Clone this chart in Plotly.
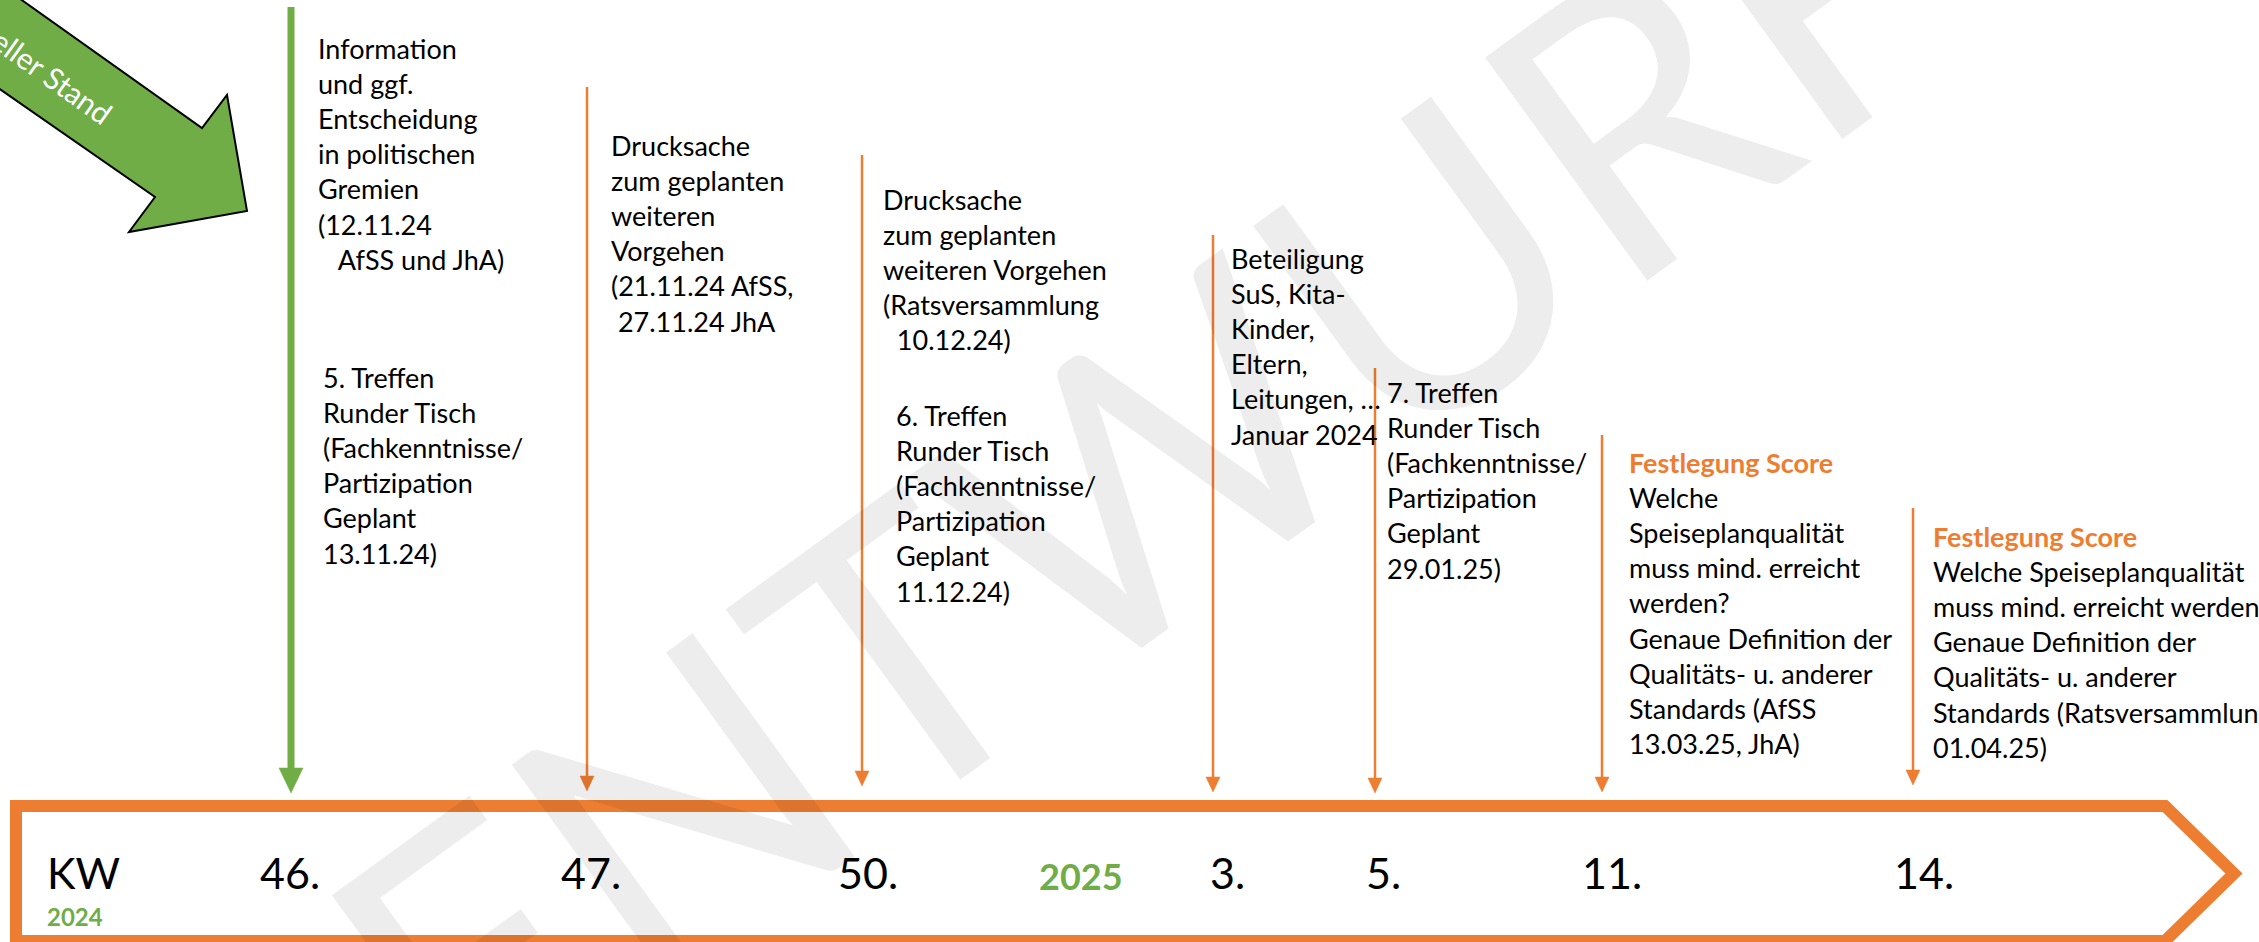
import plotly.graph_objects as go

# ---------------- data ----------------
week_labels = ["46.", "47.", "50.", "3.", "5.", "11.", "14."]
kw_label = "KW"
year_start = "2024"
year_break = "2025"
current_label = "Aktueller Stand"
watermark_text = "ENTWURF"

NB = "\u00a0"
upper_texts = [
    ["Information", "und ggf.", "Entscheidung", "in politischen", "Gremien", "(12.11.24", NB * 3 + "AfSS und JhA)"],
    ["Drucksache", "zum geplanten", "weiteren", "Vorgehen", "(21.11.24 AfSS,", NB + "27.11.24 JhA"],
    ["Drucksache", "zum geplanten", "weiteren Vorgehen", "(Ratsversammlung", NB * 2 + "10.12.24)"],
    ["Beteiligung", "SuS, Kita-", "Kinder,", "Eltern,", "Leitungen, …", "Januar 2024"],
    ["7. Treffen", "Runder Tisch", "(Fachkenntnisse/", "Partizipation", "Geplant", "29.01.25)"],
    ["Welche", "Speiseplanqualität", "muss mind. erreicht", "werden?", "Genaue Definition der",
     "Qualitäts- u. anderer", "Standards (AfSS", "13.03.25, JhA)"],
    ["Welche Speiseplanqualität", "muss mind. erreicht werden?", "Genaue Definition der",
     "Qualitäts- u. anderer", "Standards (Ratsversammlung", "01.04.25)"],
]
headings = [None, None, None, None, None, "Festlegung Score", "Festlegung Score"]
lower_texts = {
    0: ["5. Treffen", "Runder Tisch", "(Fachkenntnisse/", "Partizipation", "Geplant", "13.11.24)"],
    2: ["6. Treffen", "Runder Tisch", "(Fachkenntnisse/", "Partizipation", "Geplant", "11.12.24)"],
}
current_index = 0

# ---------------- layout (pixel canvas) ----------------
W, H = 2259, 942
ORANGE = "#ED7D31"
GREEN = "#70AD47"
FONT = "Lato"
FS = 27          # event text size
FS_WEEK = 43

marker_x = [291, 587, 862, 1213, 1375, 1602, 1913]
marker_top = [7, 87, 155, 235, 368, 435, 508]
marker_tip = [793, 791, 786, 792, 793, 792, 785]
upper_text_x = [316, 609, 881, 1229, 1385, 1627, 1931]
upper_text_base = [58, 155, 209, 268, 402, 472, 546]
lower_text_pos = {0: (321, 387), 2: (894, 425)}
label_x = [258, 559, 836, 1208, 1364, 1580, 1892]
label_base = 889
ASC = 0.99       # ascent factor used to turn a baseline into a box top


def top_from_base(base, size):
    return base - ASC * size - 1


fig = go.Figure()
shapes = []
annotations = []

# watermark (drawn first, faint)
annotations.append(dict(
    x=1140, y=465, xref="x", yref="y", text=watermark_text, showarrow=False,
    textangle=-36, xanchor="center", yanchor="middle",
    font=dict(family=FONT, size=385, color="rgba(0,0,0,0.07)"),
))

# timeline box (arrow shaped)
box_l, box_t, box_b, box_r, box_tip = 16, 806, 941, 2165, 2234
box_mid = (box_t + box_b) / 2
shapes.append(dict(
    type="path", xref="x", yref="y",
    path=f"M {box_l},{box_t} L {box_r},{box_t} L {box_tip},{box_mid} L {box_r},{box_b} L {box_l},{box_b} Z",
    line=dict(color=ORANGE, width=12), fillcolor="rgba(0,0,0,0)", layer="above",
))

# vertical markers
for i, x in enumerate(marker_x):
    cur = i == current_index
    col = GREEN if cur else ORANGE
    lw = 7 if cur else 2.5
    hw, hl = (12, 25) if cur else (7, 15)
    tip = marker_tip[i]
    shapes.append(dict(type="line", xref="x", yref="y", x0=x, x1=x, y0=marker_top[i], y1=tip - hl + 2,
                       line=dict(color=col, width=lw), layer="above"))
    shapes.append(dict(type="path", xref="x", yref="y",
                       path=f"M {x-hw},{tip-hl} L {x+hw},{tip-hl} L {x},{tip} Z",
                       fillcolor=col, line=dict(color=col, width=0.5), layer="above"))

# big green "current state" arrow
shapes.append(dict(
    type="path", xref="x", yref="y",
    path="M -160,-129 L 202,128 L 227,95 L 247,211 L 129,232 L 155,197 L -160,-22 Z",
    fillcolor=GREEN, line=dict(color="black", width=2), layer="above",
))
annotations.append(dict(
    x=27, y=58, xref="x", yref="y", text=current_label, showarrow=False,
    textangle=35.5, xanchor="center", yanchor="middle",
    font=dict(family=FONT, size=30, color="white"),
))

# event texts
for i, lines in enumerate(upper_texts):
    body = "<br>".join(lines)
    if headings[i]:
        body = f"<b><span style='color:{ORANGE}'>{headings[i]}</span></b><br>" + body
    annotations.append(dict(
        x=upper_text_x[i], y=top_from_base(upper_text_base[i], FS), xref="x", yref="y",
        text=body, showarrow=False, align="left", xanchor="left", yanchor="top",
        font=dict(family=FONT, size=FS, color="black"),
    ))
for i, lines in lower_texts.items():
    lx, lb = lower_text_pos[i]
    annotations.append(dict(
        x=lx, y=top_from_base(lb, FS), xref="x", yref="y",
        text="<br>".join(lines), showarrow=False, align="left", xanchor="left", yanchor="top",
        font=dict(family=FONT, size=FS, color="black"),
    ))

# week labels inside the timeline box
for i, lab in enumerate(week_labels):
    annotations.append(dict(
        x=label_x[i], y=top_from_base(label_base, FS_WEEK), xref="x", yref="y",
        text=lab, showarrow=False, xanchor="left", yanchor="top",
        font=dict(family=FONT, size=FS_WEEK, color="black"),
    ))
annotations.append(dict(
    x=45, y=top_from_base(label_base, FS_WEEK), xref="x", yref="y", text=kw_label,
    showarrow=False, xanchor="left", yanchor="top",
    font=dict(family=FONT, size=FS_WEEK, color="black"),
))
annotations.append(dict(
    x=45, y=top_from_base(925, 24), xref="x", yref="y", text=f"<b>{year_start}</b>",
    showarrow=False, xanchor="left", yanchor="top",
    font=dict(family=FONT, size=24, color=GREEN),
))
annotations.append(dict(
    x=1037, y=top_from_base(label_base, 36), xref="x", yref="y", text=f"<b>{year_break}</b>",
    showarrow=False, xanchor="left", yanchor="top",
    font=dict(family=FONT, size=36, color=GREEN),
))

fig.update_layout(
    width=W, height=H, margin=dict(l=0, r=0, t=0, b=0),
    paper_bgcolor="white", plot_bgcolor="white",
    xaxis=dict(range=[0, W], visible=False, fixedrange=True),
    yaxis=dict(range=[H, 0], visible=False, fixedrange=True),
    shapes=shapes, annotations=annotations, showlegend=False,
)

fig.write_html(
    "out.html",
    config={"displayModeBar": False, "staticPlot": True},
    post_script="document.body.style.margin='0';document.body.style.overflow='hidden';",
)
